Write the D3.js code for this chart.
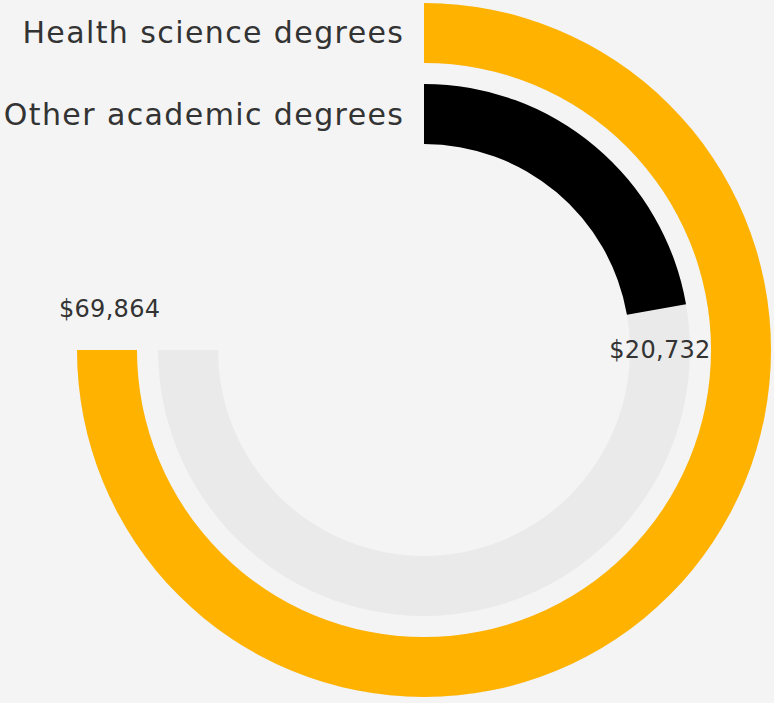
<!DOCTYPE html>
<html><head><meta charset="utf-8">
<script src="https://cdn.jsdelivr.net/npm/d3@7"></script>
<style>
html,body{margin:0;padding:0;background:#f4f4f4;}
svg{display:block;}
</style></head>
<body>
<script>
const categories = ["Health science degrees", "Other academic degrees"];
const values = [69864, 20732];
const valueLabels = ["$69,864", "$20,732"];
const maxValue = 69864;

const W = 774, H = 703, cx = 424, cy = 350;
const barColors = ["#ffb300", "#000000"];
const trackColor = "#eaeaea";
const textColor = "#333333";
const font = "'DejaVu Sans', sans-serif";

const svg = d3.select("body").append("svg").attr("width", W).attr("height", H);
svg.append("rect").attr("width", W).attr("height", H).attr("fill", "#f4f4f4");
const g = svg.append("g").attr("transform", `translate(${cx},${cy})`);

const angle = d3.scaleLinear().domain([0, maxValue]).range([0, 1.5 * Math.PI]);
const radius = d3.scaleBand().domain(categories.slice().reverse()).range([206, 347]).paddingInner(0.26).paddingOuter(0);

const arc = d3.arc()
  .innerRadius(d => radius(d.cat))
  .outerRadius(d => radius(d.cat) + radius.bandwidth())
  .startAngle(0)
  .endAngle(d => d.end);

const data = categories.map((c, i) => ({cat: c, value: values[i], label: valueLabels[i], color: barColors[i]}));

g.selectAll("path.track").data(data).join("path").attr("class", "track")
  .attr("d", d => arc({cat: d.cat, end: angle(maxValue)})).attr("fill", trackColor);
g.selectAll("path.bar").data(data).join("path").attr("class", "bar")
  .attr("d", d => arc({cat: d.cat, end: angle(d.value)})).attr("fill", d => d.color);

// category labels
g.selectAll("text.cat").data(data).join("text").attr("class", "cat")
  .attr("x", -19.6)
  .attr("y", d => -(radius(d.cat) + radius.bandwidth() / 2))
  .attr("text-anchor", "end").attr("dominant-baseline", "central")
  .attr("font-family", font).attr("font-size", 30).attr("letter-spacing", 1.4)
  .attr("fill", textColor)
  .text(d => d.cat);

// value labels
g.selectAll("text.val").data(data).join("text").attr("class", "val")
  .each(function(d) {
    const r = radius(d.cat) + radius.bandwidth() / 2;
    const a = angle(d.value) + 41 / r;
    d3.select(this).attr("x", r * Math.sin(a)).attr("y", -r * Math.cos(a));
  })
  .attr("text-anchor", "middle").attr("dominant-baseline", "central")
  .attr("font-family", font).attr("font-size", 24).attr("letter-spacing", 0.3)
  .attr("fill", textColor)
  .text(d => d.label);
</script>
</body></html>
